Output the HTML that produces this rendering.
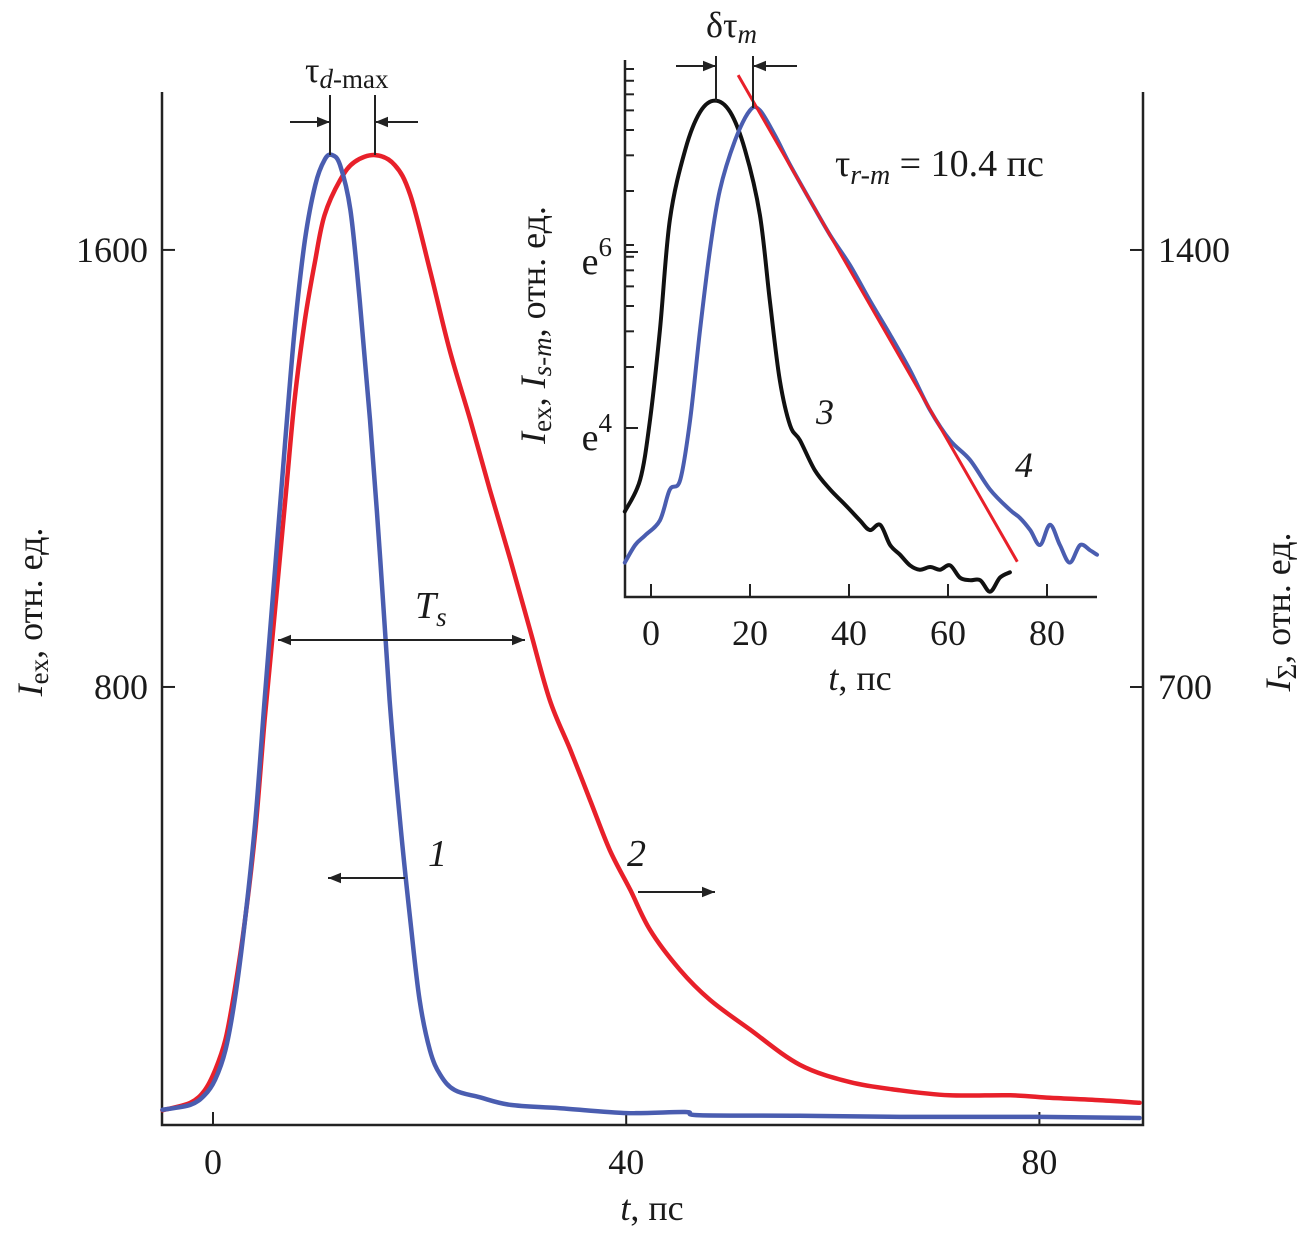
<!DOCTYPE html>
<html><head><meta charset="utf-8"><style>
html,body{margin:0;padding:0;background:#fff;}
svg{display:block;}
svg text{font-family:"Liberation Serif","DejaVu Serif",serif;fill:#1a1a1a;}
</style></head><body>
<svg id="chart" width="1309" height="1234" viewBox="0 0 1309 1234" xmlns="http://www.w3.org/2000/svg" font-family="Liberation Serif, DejaVu Serif, serif">
<defs>
<marker id="ah2" viewBox="0 0 10 10" refX="10" refY="5" markerWidth="16" markerHeight="13" markerUnits="userSpaceOnUse" orient="auto"><path d="M0,1 L10,5 L0,9 Z" fill="#222"/></marker>
</defs>
<g id="main"></g>
<g id="inset"></g>
<g id="ann">
  <text x="305" y="82" font-size="36">τ<tspan font-style="italic" font-size="27" dy="6">d</tspan><tspan font-size="27">-max</tspan></text>
  <line x1="330" y1="95" x2="330" y2="155" stroke="#222" stroke-width="2"/>
  <line x1="375" y1="95" x2="375" y2="155" stroke="#222" stroke-width="2"/>
  <line x1="290" y1="122" x2="330" y2="122" stroke="#222" stroke-width="2" marker-end="url(#ah2)"/>
  <line x1="418" y1="122" x2="375" y2="122" stroke="#222" stroke-width="2" marker-end="url(#ah2)"/>
  <line x1="400" y1="640" x2="278" y2="640" stroke="#222" stroke-width="2" marker-end="url(#ah2)"/>
  <line x1="400" y1="640" x2="525" y2="640" stroke="#222" stroke-width="2" marker-end="url(#ah2)"/>
  <text x="415" y="618" font-size="38" font-style="italic">T<tspan font-size="27" dy="8">s</tspan></text>
  <text x="428" y="866" font-size="38" font-style="italic">1</text>
  <line x1="405" y1="878" x2="328" y2="878" stroke="#222" stroke-width="2" marker-end="url(#ah2)"/>
  <text x="627" y="866" font-size="38" font-style="italic">2</text>
  <line x1="638" y1="892" x2="715" y2="892" stroke="#222" stroke-width="2" marker-end="url(#ah2)"/>
  <text x="706" y="37" font-size="36">δτ<tspan font-style="italic" font-size="27" dy="6">m</tspan></text>
  <line x1="716" y1="56" x2="716" y2="101" stroke="#222" stroke-width="2"/>
  <line x1="753" y1="56" x2="753" y2="108" stroke="#222" stroke-width="2"/>
  <line x1="676" y1="66" x2="716" y2="66" stroke="#222" stroke-width="2" marker-end="url(#ah2)"/>
  <line x1="797" y1="66" x2="753" y2="66" stroke="#222" stroke-width="2" marker-end="url(#ah2)"/>
  <text x="835" y="176" font-size="38">τ<tspan font-style="italic" font-size="28" dy="8">r-m</tspan><tspan dy="-8"> = 10.4 пс</tspan></text>
  <text x="816" y="424" font-size="36" font-style="italic">3</text>
  <text x="1015" y="477" font-size="36" font-style="italic">4</text>
  <text transform="translate(42,612) rotate(-90)" text-anchor="middle" font-size="36"><tspan font-style="italic">I</tspan><tspan font-size="27" dy="6">ex</tspan><tspan dy="-6">, отн. ед.</tspan></text>
  <text transform="translate(1290,612) rotate(-90)" text-anchor="middle" font-size="36"><tspan font-style="italic">I</tspan><tspan font-size="27" dy="6">Σ</tspan><tspan dy="-6">, отн. ед.</tspan></text>
  <text x="652" y="1220" text-anchor="middle" font-size="36"><tspan font-style="italic">t</tspan>, пс</text>
  <text transform="translate(545,325) rotate(-90)" text-anchor="middle" font-size="36"><tspan font-style="italic">I</tspan><tspan font-size="27" dy="6">ex</tspan><tspan dy="-6">, </tspan><tspan font-style="italic">I</tspan><tspan font-size="27" dy="6" font-style="italic">s-m</tspan><tspan dy="-6">, отн. ед.</tspan></text>
  <text x="860" y="690" text-anchor="middle" font-size="36"><tspan font-style="italic">t</tspan>, пс</text>
</g>
</svg>
<script>
// Main chart data
const mainXTicks = [0, 40, 80];
const mainYLeftTicks = [800, 1600];
const mainYRightTicks = [700, 1400];
const curve1T = [-4.9,-2.2,-0.8,0.2,1.2,2.1,3.1,4.1,5.0,6.0,7.0,7.9,8.9,9.9,10.8,11.5,12.3,13.3,14.2,15.2,16.2,17.1,18.1,19.1,20.0,21.0,22.0,23.4,25.8,28.8,33.6,40.1,45.7,47.1,56.8,66.5,80.1,89.7];
const curve1V = [26,35,53,81,135,227,373,556,776,1014,1252,1453,1618,1719,1765,1774,1755,1673,1508,1289,1032,776,556,373,227,135,90,62,49,35,29,20,22,16,15,13,13,11];
const curve2T = [-4.9,-2.2,-0.8,0.2,1.2,2.1,3.1,4.1,5.0,6.0,7.0,7.9,8.9,9.9,10.8,12.3,13.7,15.7,17.6,19.1,21.0,22.9,24.9,26.8,28.8,30.7,32.6,34.6,36.5,38.4,40.4,42.3,45.2,48.1,52.0,56.8,61.7,66.5,71.3,77.2,81.0,85.9,89.7];
const curve2V = [22,34,54,86,135,215,327,471,647,823,1000,1160,1288,1384,1456,1512,1541,1552,1536,1488,1368,1240,1128,1016,903,791,679,599,519,439,375,311,247,199,151,95,67,54,46,46,42,38,34];
// Inset data (log scale, ln values)
const insetXTicks = [0, 20, 40, 60, 80];
const insetYTicks = [4, 6];
const curve3T = [-5.3,-2.2,-0.2,1.8,3.8,6.9,9.9,12.9,16,19,22,24,26,28.1,30.1,33.1,36.2,39.2,42.2,44.2,46.3,48.3,50.3,52.3,54.3,56.4,58.4,60.4,62.4,64.4,66.5,68.5,70.5,72.5];
const curve3Ln = [3.05,3.41,4.09,5.11,6.36,7.16,7.59,7.72,7.59,7.16,6.42,5.45,4.55,4.03,3.86,3.52,3.30,3.13,2.95,2.84,2.90,2.67,2.56,2.44,2.39,2.42,2.39,2.44,2.30,2.27,2.27,2.14,2.30,2.36];
const curve4T = [-5.3,-3.2,-1.2,1.8,3.8,5.9,7.9,9.9,11.9,13.9,17,20,22,25,28.1,32.1,36.2,40.2,44.2,48.3,52.3,56.4,60.4,64.4,68.5,72.5,74.5,76.6,78.6,80.6,82.6,84.6,86.7,88.7,90.1];
const curve4Ln = [2.47,2.67,2.78,2.95,3.30,3.41,4.09,5.11,6.02,6.70,7.27,7.61,7.61,7.33,6.99,6.59,6.19,5.85,5.45,5.06,4.66,4.20,3.86,3.64,3.30,3.07,2.98,2.84,2.67,2.90,2.67,2.47,2.67,2.61,2.56];
const fitT = [17.6, 74];
const fitTau = [10.2];
const fitLn0 = [8.01];

const NS = "http://www.w3.org/2000/svg";
function mk(parent, tag, attrs){const e=document.createElementNS(NS,tag);for(const k in attrs)e.setAttribute(k,attrs[k]);parent.appendChild(e);return e;}

const mx = t => 213 + t*10.33;
const myL = v => 1124 - v*0.5463;
const myR = v => 1124 - v*0.6243;
const main = document.getElementById('main');
const L=162,R=1143,T=92,B=1125;
let ax = mk(main,'path',{d:`M${L},${T} L${L},${B} L${R},${B} L${R},${T}`,fill:'none',stroke:'#222','stroke-width':2.5});


mainXTicks.forEach(t=>{
  const l=mk(main,'line',{x1:mx(t),y1:B,x2:mx(t),y2:B-13,stroke:'#222','stroke-width':2});
  
  
  const tx=mk(main,'text',{x:mx(t),y:1174,'text-anchor':'middle','font-size':36});
  tx.textContent=t;
  
  
});
mainYLeftTicks.forEach(v=>{
  const l=mk(main,'line',{x1:L,y1:myL(v),x2:L+13,y2:myL(v),stroke:'#222','stroke-width':2});
  
  
  const tx=mk(main,'text',{x:148,y:myL(v)+12,'text-anchor':'end','font-size':36});
  tx.textContent=v;
  
  
});
mainYRightTicks.forEach(v=>{
  const l=mk(main,'line',{x1:R,y1:myR(v),x2:R-13,y2:myR(v),stroke:'#222','stroke-width':2});
  
  
  const tx=mk(main,'text',{x:1158,y:myR(v)+12,'text-anchor':'start','font-size':36});
  tx.textContent=v;
  
  
});
function poly(parent,xs,ys,fx,fy,color,name,w){
  const P=xs.map((t,i)=>[fx(t),fy(ys[i])]);
  let d='M'+P[0][0].toFixed(1)+','+P[0][1].toFixed(1);
  for(let i=0;i<P.length-1;i++){
    const p0=P[i-1]||P[i],p1=P[i],p2=P[i+1],p3=P[i+2]||P[i+1];
    const c1=[p1[0]+(p2[0]-p0[0])/6,p1[1]+(p2[1]-p0[1])/6];
    const c2=[p2[0]-(p3[0]-p1[0])/6,p2[1]-(p3[1]-p1[1])/6];
    d+=` C${c1[0].toFixed(1)},${c1[1].toFixed(1)} ${c2[0].toFixed(1)},${c2[1].toFixed(1)} ${p2[0].toFixed(1)},${p2[1].toFixed(1)}`;
  }
  const p=mk(parent,'path',{d:d,fill:'none',stroke:color,'stroke-width':w||4.5,'stroke-linejoin':'round','stroke-linecap':'round'});
  
  
}
poly(main,curve2T,curve2V,mx,myR,'#e8202a','curve-2-red');
poly(main,curve1T,curve1V,mx,myL,'#4a5db0','curve-1-blue');

const ix = t => 651 + t*4.95;
const iy = ln => 252 - (ln-6)*88;
const inset=document.getElementById('inset');
const IL=625,IR=1097,IT=60,IB=597;
let iax=mk(inset,'path',{d:`M${IL},${IT} L${IL},${IB} L${IR},${IB}`,fill:'none',stroke:'#222','stroke-width':2.5});


insetXTicks.forEach(t=>{
  const l=mk(inset,'line',{x1:ix(t),y1:IB,x2:ix(t),y2:IB-13,stroke:'#222','stroke-width':2});
  
  
  const tx=mk(inset,'text',{x:ix(t),y:645,'text-anchor':'middle','font-size':36});
  tx.textContent=t;
  
  
});
insetYTicks.forEach(v=>{
  for(let k=1;k<=8;k++){
    const val=Math.log(Math.exp(v)*k);
    const y=iy(val);
    if(y<IT) break;
    const l=mk(inset,'line',{x1:IL,y1:y,x2:IL+(k===1?13:9),y2:y,stroke:'#222','stroke-width':2});
    
    
  }
  const tx=mk(inset,'text',{x:612,y:iy(v)+22,'text-anchor':'end','font-size':38});
  tx.innerHTML='e<tspan font-size="27" dy="-18">'+v+'</tspan>';
  
  
});
poly(inset,curve3T,curve3Ln,ix,iy,'#111','curve-3-black',4);
poly(inset,curve4T,curve4Ln,ix,iy,'#4a5db0','curve-4-blue',4);
const fitLnArr = fitT.map(t=>fitLn0[0]-(t-fitT[0])/fitTau[0]);
const fl=mk(inset,'line',{x1:ix(fitT[0]),y1:iy(fitLnArr[0]),x2:ix(fitT[1]),y2:iy(fitLnArr[1]),stroke:'#e8202a','stroke-width':3});


</script>
</body></html>
